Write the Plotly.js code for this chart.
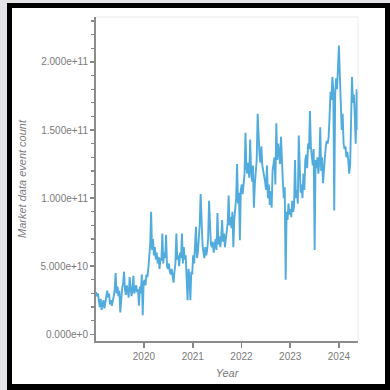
<!DOCTYPE html>
<html>
<head>
<meta charset="utf-8">
<script src="https://cdn.plot.ly/plotly-3.0.1.min.js"></script>
<style>
  html, body { margin: 0; padding: 0; width: 390px; height: 390px; overflow: hidden; background: #e4e4e8; }
  #frame { position: absolute; left: 7px; top: 3px; width: 383px; height: 387px; box-sizing: border-box; border: 5px solid #000; border-bottom-width: 6px; background: #fff; }
  #chart { position: absolute; left: 0; top: 0; width: 390px; height: 390px; }
</style>
</head>
<body>
<div id="frame"></div>
<div id="chart"></div>
<script>
// Weekly samples starting 2019-01-07 (values in units of 1e9 events)
const startDate = '2019-01-07';
const weekMs = 7 * 24 * 3600 * 1000;
const valuesBillions = [
  31, 28, 30, 24, 20, 26, 18, 22, 25, 19,
  24, 30, 32, 27, 30, 22, 25, 21, 24, 28,
  33, 45, 30, 35, 28, 32, 16, 30, 34, 37,
  46, 33, 29, 36, 30, 27, 42, 31, 28, 32,
  43, 30, 34, 36, 31, 33, 21, 35, 30, 44,
  14, 38, 40, 36, 44, 42, 48, 60, 66, 90,
  62, 70, 58, 64, 55, 60, 52, 57, 48, 56,
  54, 74, 52, 60, 56, 73, 50, 48, 52, 46,
  44, 48, 40, 38, 46, 52, 74, 55, 58, 50,
  60, 56, 74, 52, 64, 55, 58, 45, 25, 48,
  42, 25, 46, 44, 58, 52, 62, 79, 56, 60,
  70, 80, 103, 78, 66, 60, 56, 64, 58, 62,
  70, 98, 72, 66, 64, 68, 60, 64, 70, 62,
  89, 66, 72, 64, 70, 84, 68, 74, 64, 70,
  76, 82, 102, 80, 86, 78, 90, 64, 84, 92,
  100, 125, 96, 104, 69, 106, 110, 103, 112, 118,
  148, 122, 118, 126, 115, 143, 120, 112, 124, 93,
  110, 124, 128, 162, 140, 132, 126, 138, 124, 120,
  118, 112, 106, 124, 100, 110, 95, 105, 93, 120,
  125, 130, 110, 155, 128, 140, 133, 125, 145, 120,
  112, 100, 108, 40, 90, 84, 96, 88, 92, 86,
  98, 90, 94, 128, 100, 106, 96, 146, 112, 104,
  110, 100, 118, 106, 128, 132, 122, 140, 136, 164,
  138, 130, 124, 136, 62, 128, 122, 130, 118, 126,
  152, 120, 130, 111, 124, 130, 138, 142, 140, 145,
  160, 178, 172, 189, 180, 91, 176, 188, 180, 194,
  212, 190, 170, 150, 162, 140, 136, 138, 130, 134,
  128, 118, 124, 150, 189, 170, 176, 160, 140, 180,
  150, 178
];
const eventCounts = valuesBillions.map(v => v * 1e9);

const yTickVals = [0, 5e10, 1e11, 1.5e11, 2e11];
const xTickVals = ['2020-01-01', '2021-01-01', '2022-01-01', '2023-01-01', '2024-01-01'];
const xTickText = ['2020', '2021', '2022', '2023', '2024'];

const trace = {
  type: 'scatter',
  mode: 'lines',
  x0: startDate,
  dx: weekMs,
  y: eventCounts,
  line: { color: '#2596d4', width: 1.9 },
  opacity: 0.8,
  hoverinfo: 'skip'
};

const axisFont = { family: 'Liberation Sans, Arial, sans-serif', size: 10, color: '#7a7a7a' };
const titleFont = { family: 'Liberation Sans, Arial, sans-serif', size: 11, color: '#7a7a7a' };

const layout = {
  width: 390, height: 390,
  margin: { l: 96, r: 32, t: 17, b: 49 },
  paper_bgcolor: 'rgba(0,0,0,0)',
  plot_bgcolor: '#ffffff',
  showlegend: false,
  xaxis: {
    type: 'date',
    range: ['2019-01-07', '2024-05-23'],
    tickvals: xTickVals,
    ticktext: xTickText,
    ticks: 'outside', ticklen: 5, tickwidth: 1.5, tickcolor: '#888',
    showline: true, linecolor: '#8c8c8c', linewidth: 2,
    showgrid: false, zeroline: false,
    tickfont: axisFont,
    title: { text: '<i>Year</i>', font: titleFont, standoff: 8 }
  },
  yaxis: {
    range: [-4.9e9, 2.33e11],
    tickvals: yTickVals,
    tickformat: '.3e',
    ticks: 'outside', ticklen: 4, tickwidth: 1.5, tickcolor: '#888',
    minor: { dtick: 1e10, tick0: 0, ticks: 'outside', ticklen: 3, tickcolor: '#888', tickwidth: 1.2, showgrid: false },
    showline: true, linecolor: '#8c8c8c', linewidth: 2,
    showgrid: false, zeroline: false,
    tickfont: axisFont,
    title: { text: '<i>Market data event count</i>', font: titleFont, standoff: 12 }
  },
  shapes: [
    { type: 'line', xref: 'paper', yref: 'paper', x0: 0, x1: 1, y0: 1, y1: 1, line: { color: '#ececec', width: 1 } },
    { type: 'line', xref: 'paper', yref: 'paper', x0: 1, x1: 1, y0: 0, y1: 1, line: { color: '#ececec', width: 1 } }
  ]
};

Plotly.newPlot('chart', [trace], layout, { staticPlot: true, displayModeBar: false });
</script>
</body>
</html>
